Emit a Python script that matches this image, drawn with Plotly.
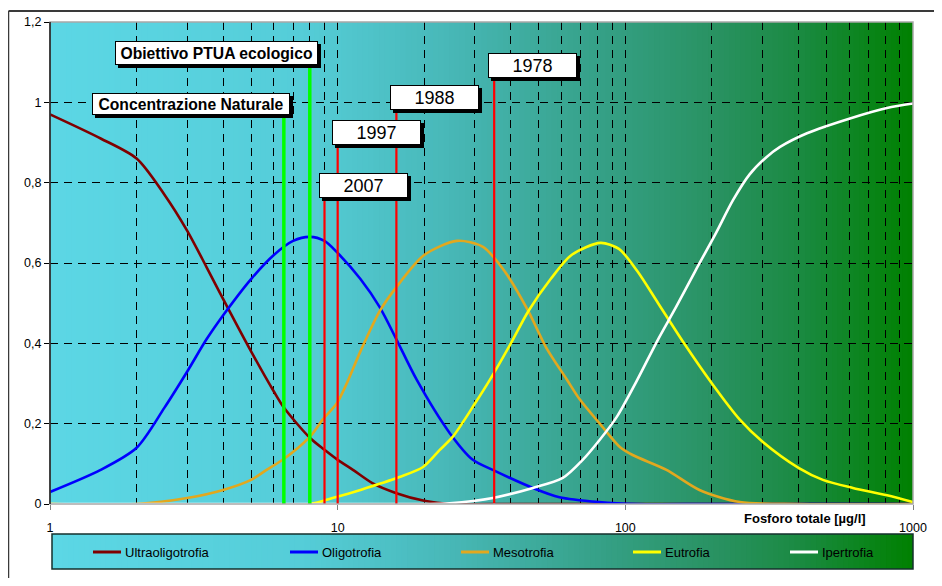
import plotly.graph_objects as go
import math

# ---------------- data ----------------
ULTRA_X = [1, 1.5, 2, 2.5, 3, 3.5, 4, 5, 6, 6.5, 8, 9, 10, 11.3, 13.2, 16, 20, 25, 40, 100, 1000]
ULTRA_Y = [0.97, 0.91, 0.86, 0.77, 0.68, 0.59, 0.51, 0.38, 0.28, 0.24, 0.165, 0.135, 0.11, 0.085,
           0.052, 0.027, 0.008, 0, 0, 0, 0]

OLIGO_X = [1, 1.5, 2, 2.5, 3, 3.5, 4, 5, 6, 7, 8, 9, 10, 12, 14, 16, 18.8, 24.5, 29.5, 34.6,
           47.7, 59, 81, 110, 200, 1000]
OLIGO_Y = [0.03, 0.085, 0.14, 0.24, 0.33, 0.41, 0.47, 0.56, 0.62, 0.655, 0.665, 0.655, 0.625,
           0.56, 0.49, 0.41, 0.31, 0.177, 0.11, 0.085, 0.04, 0.017, 0.005, 0, 0, 0]

MESO_X = [1, 2, 3, 4, 5, 5.66, 6.44, 8, 8.87, 9.92, 10.75, 12, 14, 16, 20, 26, 32, 38, 46, 53,
          62.6, 69.5, 81.5, 95.7, 106, 139, 181, 250, 400, 1000]
MESO_Y = [0, 0, 0.015, 0.035, 0.06, 0.085, 0.11, 0.167, 0.21, 0.25, 0.30, 0.38, 0.48, 0.54, 0.62,
          0.655, 0.64, 0.58, 0.48, 0.39, 0.31, 0.26, 0.20, 0.142, 0.122, 0.085, 0.035, 0.005, 0, 0]

EU_X = [1, 8, 9.6, 12, 16.4, 19.8, 22.6, 25.1, 30, 33.8, 40, 46, 55, 65, 82, 95, 110, 130, 160,
        200, 250, 300, 400, 486, 618, 812, 1000]
EU_Y = [0, 0, 0.015, 0.035, 0.067, 0.092, 0.134, 0.167, 0.25, 0.309, 0.40, 0.48, 0.56, 0.62, 0.65,
        0.635, 0.58, 0.50, 0.40, 0.30, 0.21, 0.155, 0.09, 0.06, 0.04, 0.022, 0.005]

IPER_X = [1, 20, 24.5, 34.6, 47.7, 60.6, 71.1, 81.5, 93.4, 110, 130, 150, 175, 205, 237, 270, 310,
          345, 428, 604, 812, 1000]
IPER_Y = [0, 0, 0.002, 0.015, 0.04, 0.065, 0.11, 0.16, 0.217, 0.309, 0.41, 0.49, 0.58, 0.67, 0.757,
          0.82, 0.864, 0.889, 0.923, 0.96, 0.986, 0.997]

SERIES_NAMES = ["Ultraoligotrofia", "Oligotrofia", "Mesotrofia", "Eutrofia", "Ipertrofia"]
SERIES_COLORS = ["#800000", "#0000FF", "#E2A81E", "#FFFF00", "#FFFFFF"]

MARKER_LABELS = ["Concentrazione Naturale", "Obiettivo PTUA ecologico", "2007", "1997", "1988", "1978"]
MARKER_X = [6.5, 8, 9, 10, 16, 35]
MARKER_TOP = [0.968, 1.093, 0.762, 0.894, 0.981, 1.06]

X_TICKS = [1, 10, 100, 1000]
X_MINOR = [m * d for d in (1, 10, 100) for m in range(2, 10)]
Y_TICKS = [0, 0.2, 0.4, 0.6, 0.8, 1.0, 1.2]
X_TITLE = "Fosforo totale [µg/l]"

# ---------------- layout constants ----------------
OFF = 8  # default page body margin
W, H = 926, 570
ML, MR, MT, MB = 42, 21, 14, 74
PW, PH = W - ML - MR, H - MT - MB
FONT = "Liberation Sans, Arial, sans-serif"


def pxx(px):
    """page pixel x -> paper"""
    return (px - OFF - ML) / PW


def pxy(py):
    """page pixel y -> paper"""
    return (H - MB - (py - OFF)) / PH


GRAD = [(0.00, (92, 215, 229)), (0.29, (85, 205, 216)), (0.46, (72, 184, 184)),
        (0.64, (53, 160, 134)), (0.78, (40, 145, 95)), (0.87, (26, 138, 65)), (1.00, (0, 128, 0))]


def grad_color(t):
    for (t0, c0), (t1, c1) in zip(GRAD[:-1], GRAD[1:]):
        if t <= t1:
            f = (t - t0) / (t1 - t0) if t1 > t0 else 0
            c = [round(a + (b - a) * f) for a, b in zip(c0, c1)]
            return "rgb(%d,%d,%d)" % tuple(c)
    return "rgb(0,128,0)"


fig = go.Figure()

xs = [ULTRA_X, OLIGO_X, MESO_X, EU_X, IPER_X]
ys = [ULTRA_Y, OLIGO_Y, MESO_Y, EU_Y, IPER_Y]
for name, col, x, y in zip(SERIES_NAMES, SERIES_COLORS, xs, ys):
    fig.add_trace(go.Scatter(x=x, y=y, mode="lines", name=name, showlegend=False,
                             line=dict(color=col, width=2.6, shape="spline", smoothing=0.8),
                             hoverinfo="skip"))

# vertical marker lines
for i, (lab, mx, top) in enumerate(zip(MARKER_LABELS, MARKER_X, MARKER_TOP)):
    green = i < 2
    fig.add_trace(go.Scatter(x=[mx, mx], y=[0, top], mode="lines", showlegend=False,
                             line=dict(color="#00FF00" if green else "#FF0000",
                                       width=3.5 if green else 2.2),
                             hoverinfo="skip"))

shapes = []
N = 160
for i in range(N):
    t0 = i / N
    t1 = (i + 1) / N + 0.002
    col = grad_color((i + 0.5) / N)
    shapes.append(dict(type="rect", xref="x domain", yref="y domain", x0=t0, x1=min(t1, 1),
                       y0=0, y1=1, fillcolor=col, line=dict(width=0), layer="below"))
# legend box gradient
LX0, LX1, LY0, LY1 = pxx(52), pxx(913), pxy(569), pxy(534)
for i in range(N):
    t0 = LX0 + (LX1 - LX0) * i / N
    t1 = LX0 + (LX1 - LX0) * ((i + 1) / N + 0.002)
    col = grad_color((i + 0.5) / N)
    shapes.append(dict(type="rect", xref="paper", yref="paper", x0=t0, x1=min(t1, LX1),
                       y0=LY0, y1=LY1, fillcolor=col, line=dict(width=0), layer="below"))
shapes.append(dict(type="rect", xref="paper", yref="paper", x0=LX0, x1=LX1, y0=LY0, y1=LY1,
                   line=dict(color="#14302c", width=1.5), layer="above"))
# plot area border (gray) and outer frame (top + left edges visible)
shapes.append(dict(type="rect", xref="x domain", yref="y domain", x0=0, x1=1, y0=0, y1=1,
                   line=dict(color="#a8a8a8", width=1.5), layer="above"))
shapes.append(dict(type="line", xref="x domain", yref="y domain", x0=0, x1=0, y0=0, y1=1,
                   line=dict(color="#000000", width=1.3), layer="above"))
shapes.append(dict(type="line", xref="paper", yref="paper", x0=pxx(8.5), x1=pxx(942), y0=pxy(11),
                   y1=pxy(11), line=dict(color="#3a3a3a", width=2), layer="above"))
shapes.append(dict(type="line", xref="paper", yref="paper", x0=pxx(8.5), x1=pxx(8.5), y0=pxy(586),
                   y1=pxy(11), line=dict(color="#3a3a3a", width=1.5), layer="above"))

annotations = []
# legend entries (manual)
LEG_PX = [93, 290, 461, 633, 790]
ly = pxy(552)
for name, col, lp in zip(SERIES_NAMES, SERIES_COLORS, LEG_PX):
    shapes.append(dict(type="line", xref="paper", yref="paper", x0=pxx(lp), x1=pxx(lp + 28),
                       y0=ly, y1=ly, line=dict(color=col, width=3), layer="above"))
    annotations.append(dict(xref="paper", yref="paper", x=pxx(lp + 30), y=ly, text=name,
                            showarrow=False, xanchor="left", yanchor="middle",
                            font=dict(family=FONT, size=13, color="#000000")))

# axis title
annotations.append(dict(xref="paper", yref="paper", x=pxx(805), y=pxy(519), text="<b>" + X_TITLE + "</b>",
                        showarrow=False, xanchor="center", yanchor="middle",
                        font=dict(family=FONT, size=13, color="#000000")))

# marker label boxes with shadow
for i, (lab, mx, top) in enumerate(zip(MARKER_LABELS, MARKER_X, MARKER_TOP)):
    green = i < 2
    if green:
        w = 199 if i == 1 else 194
        h = 20 if i == 1 else 18
        xanchor, xs_ = "right", (8 if i == 1 else 6)
        txt = "<b>" + lab + "</b>"
        fsz = 15.7
    else:
        w, h = 85, 21
        xanchor, xs_ = "left", -6
        txt = lab
        fsz = 18
    base = dict(xref="x", yref="y", x=math.log10(mx), y=top, showarrow=False,
                xanchor=xanchor, yanchor="bottom", width=w, height=h, borderpad=1,
                borderwidth=1, align="center", valign="middle")
    annotations.append(dict(base, text=" ", bgcolor="#000000", bordercolor="#000000",
                            xshift=xs_ + 3, yshift=-3, font=dict(family=FONT, size=fsz)))
    annotations.append(dict(base, text=txt, bgcolor="#FFFFFF", bordercolor="#000000",
                            xshift=xs_, font=dict(family=FONT, size=fsz, color="#000000")))

fig.update_layout(
    width=W, height=H,
    margin=dict(l=ML, r=MR, t=MT, b=MB, autoexpand=False),
    paper_bgcolor="#FFFFFF", plot_bgcolor="rgba(0,0,0,0)",
    separators=",.",
    showlegend=False,
    shapes=shapes, annotations=annotations,
    font=dict(family=FONT, size=12.5, color="#000000"),
    xaxis=dict(type="log", range=[0, 3], tickvals=X_TICKS, ticktext=[str(v) for v in X_TICKS],
               showgrid=True, gridcolor="#000000", gridwidth=1, griddash="8px,6px",
               ticks="outside", ticklen=5, tickcolor="#808080", zeroline=False, showline=False,
               automargin=False, ticklabelstandoff=7,
               tickfont=dict(family=FONT, size=12.5, color="#000000"),
               minor=dict(tickvals=X_MINOR, showgrid=True, gridcolor="#000000", gridwidth=1,
                          griddash="8px,6px", ticks="")),
    yaxis=dict(range=[0, 1.2], tickvals=Y_TICKS, showgrid=True, gridcolor="#000000", gridwidth=1,
               griddash="8px,6px", ticks="outside", ticklen=5, tickcolor="#000000", zeroline=False,
               automargin=False,
               showline=False, tickfont=dict(family=FONT, size=12.5, color="#000000")),
)

fig.write_html("out.html")
